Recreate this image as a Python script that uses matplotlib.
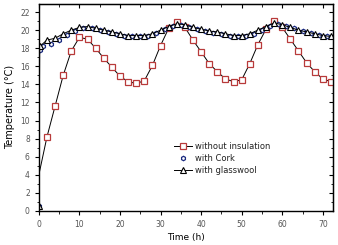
#!/usr/bin/env python
import numpy as np
import matplotlib
matplotlib.use('Agg')
import matplotlib.pyplot as plt
from matplotlib.ticker import MultipleLocator

# time (h) and temperature (C)
time_plain = [0, 2, 4, 6, 8, 10, 12, 14, 16, 18, 20, 22, 24, 26, 28, 30, 32, 34, 36,
              38, 40, 42, 44, 46, 48, 50, 52, 54, 56, 58, 60, 62, 64, 66, 68, 70, 72]
temp_plain = [4.0, 8.2, 11.6, 15.0, 17.7, 19.2, 19.0, 18.0, 16.9, 15.9, 14.9, 14.3, 14.1,
              14.4, 16.1, 18.3, 20.2, 20.9, 20.3, 18.9, 17.6, 16.3, 15.4, 14.6, 14.3, 14.5,
              16.3, 18.4, 20.1, 21.0, 20.3, 19.0, 17.7, 16.4, 15.4, 14.6, 14.3]

time_cork = [0, 0.2, 1, 3, 5, 7, 9, 11, 13, 15, 17, 19, 21, 23, 25, 27, 29, 31, 33, 35,
             37, 39, 41, 43, 45, 47, 49, 51, 53, 55, 57, 59, 61, 63, 65, 67, 69, 71]
temp_cork = [0.5, 17.8, 18.3, 18.5, 18.9, 19.5, 19.9, 20.2, 20.2, 20.0, 19.8, 19.6, 19.4,
             19.3, 19.3, 19.4, 19.7, 20.1, 20.5, 20.6, 20.4, 20.1, 19.9, 19.7, 19.6, 19.4,
             19.3, 19.3, 19.6, 20.0, 20.5, 20.7, 20.5, 20.2, 19.9, 19.7, 19.5, 19.3]

time_glass = [0, 0.2, 2, 4, 6, 8, 10, 12, 14, 16, 18, 20, 22, 24, 26, 28, 30, 32, 34, 36,
              38, 40, 42, 44, 46, 48, 50, 52, 54, 56, 58, 60, 62, 64, 66, 68, 70, 72]
temp_glass = [0.5, 18.2, 18.9, 19.1, 19.6, 20.0, 20.3, 20.4, 20.2, 20.0, 19.8, 19.6, 19.4,
              19.4, 19.4, 19.6, 20.0, 20.4, 20.7, 20.6, 20.3, 20.1, 19.9, 19.8, 19.6, 19.4,
              19.4, 19.6, 20.0, 20.4, 20.8, 20.6, 20.3, 20.0, 19.8, 19.6, 19.4, 19.3]

labels = ['without insulation', 'with Cork', 'with glasswool']


def main():
    fig = plt.figure(figsize=(3.38, 2.45), dpi=100)
    ax = fig.add_axes([0.115, 0.139, 0.870, 0.845])

    ax.plot(time_plain, temp_plain, color='black', lw=0.7, marker='s', ms=3.9,
            mfc='white', mec='#b83a3a', mew=0.9, markevery=slice(1, None),
            label=labels[0])
    ax.plot(time_cork, temp_cork, ls='none', marker='h', ms=3.2,
            mfc='white', mec='#1a2a80', mew=0.9, label=labels[1])
    ax.plot(time_glass, temp_glass, color='black', lw=0.7, marker='^', ms=3.8,
            mfc='white', mec='black', mew=0.8, label=labels[2])

    ax.set_xlim(0, 72.5)
    ax.set_ylim(0, 22.9)
    ax.xaxis.set_major_locator(MultipleLocator(10))
    ax.xaxis.set_minor_locator(MultipleLocator(5))
    ax.yaxis.set_major_locator(MultipleLocator(2))
    ax.yaxis.set_minor_locator(MultipleLocator(1))
    ax.tick_params(which='both', direction='out', labelsize=5.5, labelcolor='#555555')
    ax.tick_params(which='major', length=3, width=0.8)
    ax.tick_params(which='minor', length=1.8, width=0.6)

    # mirrored ticks pointing inward on top and right
    top = ax.secondary_xaxis('top')
    top.xaxis.set_major_locator(MultipleLocator(10))
    top.xaxis.set_minor_locator(MultipleLocator(5))
    top.tick_params(which='both', direction='in', labeltop=False)
    top.tick_params(which='major', length=3, width=0.8)
    top.tick_params(which='minor', length=1.8, width=0.6)
    right = ax.secondary_yaxis('right')
    right.yaxis.set_major_locator(MultipleLocator(2))
    right.yaxis.set_minor_locator(MultipleLocator(1))
    right.tick_params(which='both', direction='in', labelright=False)
    right.tick_params(which='major', length=3, width=0.8)
    right.tick_params(which='minor', length=1.8, width=0.6)

    for sp in ax.spines.values():
        sp.set_linewidth(1.0)

    ax.set_xlabel('Time (h)', fontsize=6.5, labelpad=3)
    ax.set_ylabel('Temperature (\u00b0C)', fontsize=7, labelpad=4)

    legend = ax.legend(loc='upper left', bbox_to_anchor=(0.44, 0.36), frameon=False,
                       fontsize=6, handlelength=2.2, handletextpad=0.3,
                       labelspacing=0.35, borderpad=0.2)
    for t in legend.get_texts():
        t.set_color('#222222')

    fig.savefig('out.png', dpi=100)


if __name__ == "__main__":
    main()
